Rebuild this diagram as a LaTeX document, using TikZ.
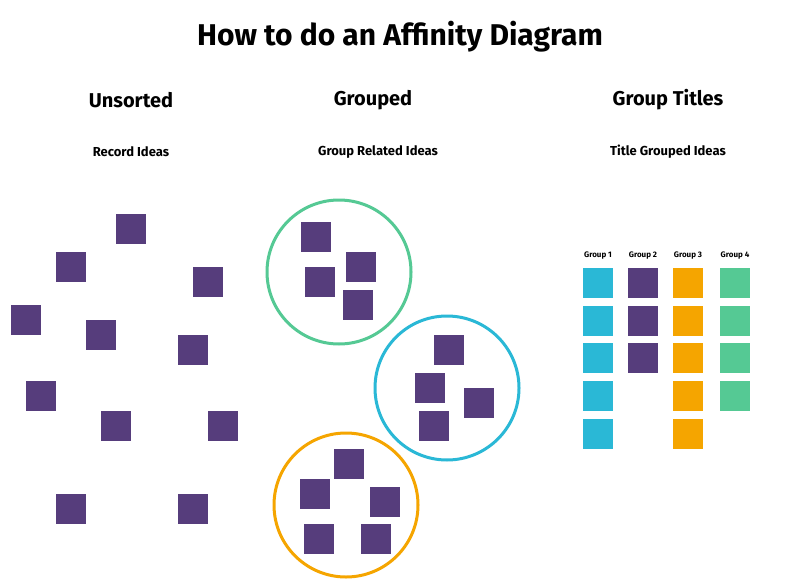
\documentclass[tikz,border=0pt]{standalone}
\usepackage{fontspec}
\setmainfont{Fira Sans}
\definecolor{pur}{HTML}{563D7C}
\definecolor{cya}{HTML}{2AB8D6}
\definecolor{ora}{HTML}{F5A500}
\definecolor{gre}{HTML}{55C994}
\begin{document}
\begin{tikzpicture}[x=1pt,y=-1pt,
 sq/.style={fill=#1,minimum size=30pt,inner sep=0pt},
 ring/.style={draw=#1,line width=3pt,circle,minimum size=144pt,inner sep=0pt},
 ttl/.style={font=\fontsize{30}{30}\selectfont\bfseries},
 hd/.style={font=\fontsize{20}{20}\selectfont\bfseries},
 sub/.style={font=\fontsize{13}{13}\selectfont\bfseries},
 gl/.style={font=\fontsize{8}{8}\selectfont\bfseries}]
\path[use as bounding box,fill=white] (0,0) rectangle (800,586);
\node[ttl] (t) at (400,37) {How to do an Affinity Diagram};
\node[hd] (h1) at (131,100) {Unsorted};
\node[hd] (h2) at (373,100) {Grouped};
\node[hd] (h3) at (668,100) {Group Titles};
\node[sub] (s1) at (131,152) {Record Ideas};
\node[sub] (s2) at (378,152) {Group Related Ideas};
\node[sub] (s3) at (668,152) {Title Grouped Ideas};
\foreach \x/\y [count=\i] in {131/229,71/267,208/282,26/320,101/335,193/350,41/396,116/426,223/426,71/509,193/509}
  \node[sq=pur] (u\i) at (\x,\y) {};
\node[ring=gre] (cg) at (339,272) {};
\node[ring=cya] (cb) at (447,388) {};
\node[ring=ora] (co) at (346,505) {};
\foreach \x/\y [count=\i] in {316/237,361/267,320/282,358/305,449/350,430/388,479/403,434/426,349/464,315/494,385/502,319/539,376/539}
  \node[sq=pur] (g\i) at (\x,\y) {};
\foreach \x/\k in {598/1,643/2,688/3,735/4}
  \node[gl] (l\k) at (\x,256) {Group \k};
\foreach \y [count=\j] in {283,321,358,396,434} \node[sq=cya] (a\j) at (598,\y) {};
\foreach \y [count=\j] in {283,321,358} \node[sq=pur] (b\j) at (643,\y) {};
\foreach \y [count=\j] in {283,321,358,396,434} \node[sq=ora] (c\j) at (688,\y) {};
\foreach \y [count=\j] in {283,321,358,396} \node[sq=gre] (d\j) at (735,\y) {};
\end{tikzpicture}
\end{document}
